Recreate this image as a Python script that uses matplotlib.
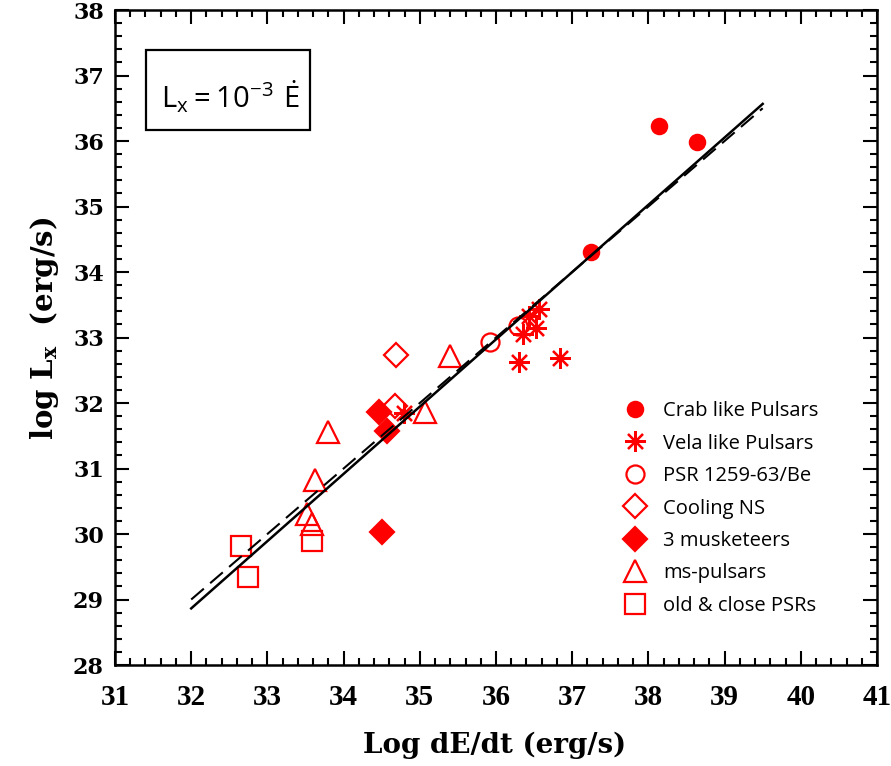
import numpy as np
import matplotlib.pyplot as plt
from matplotlib.patches import Rectangle

# data (log Edot, log Lx)
crab_x = [38.14, 38.64, 37.25]
crab_y = [36.23, 35.98, 34.30]
vela_x = [36.57, 36.43, 36.53, 36.35, 36.30, 36.84, 34.79]
vela_y = [33.43, 33.33, 33.14, 33.05, 32.62, 32.68, 31.85]
be_x = [35.92, 36.29]
be_y = [32.93, 33.18]
cool_x = [34.69, 34.68]
cool_y = [32.74, 31.95]
musk_x = [34.47, 34.57, 34.51]
musk_y = [31.87, 31.58, 30.03]
ms_x = [35.39, 35.07, 33.79, 33.62, 33.52, 33.59]
ms_y = [32.71, 31.86, 31.56, 30.82, 30.30, 30.16]
old_x = [32.66, 32.75, 33.59]
old_y = [29.81, 29.34, 29.90]

# lines: best fit (solid) and Lx = 1e-3 Edot (dashed)
fit_slope, fit_icpt = 1.027, -4.0
eff_slope, eff_icpt = 1.0, -3.0
line_range = [32.0, 39.5]

red = '#ff0000'

fig = plt.figure(figsize=(8.91, 7.66), dpi=100)
ax = fig.add_axes([115/891, 1-665/766, 762/891, 655/766])

ms_kw = dict(linestyle='none', color=red, markeredgewidth=1.6)
ax.plot(crab_x, crab_y, 'o', markersize=11, label='Crab like Pulsars', **ms_kw)
ax.plot(vela_x, vela_y, marker=(8, 2, 0), markersize=15, label='Vela like Pulsars', **ms_kw)
ax.plot(be_x, be_y, 'o', markersize=13, markerfacecolor='none', label='PSR 1259-63/Be', **ms_kw)
ax.plot(cool_x, cool_y, 'D', markersize=12, markerfacecolor='none', label='Cooling NS', **ms_kw)
ax.plot(musk_x, musk_y, 'D', markersize=12, label='3 musketeers', **ms_kw)
ax.plot(ms_x, ms_y, '^', markersize=16, markerfacecolor='none', label='ms-pulsars', **ms_kw)
ax.plot(old_x, old_y, 's', markersize=14, markerfacecolor='none', label='old & close PSRs', **ms_kw)

xl = np.array(line_range)
ax.plot(xl, fit_slope*xl + fit_icpt, color='black', lw=1.8, zorder=5)
ax.plot(xl, eff_slope*xl + eff_icpt, color='black', lw=1.5, ls=(0, (8, 4)), zorder=5)

ax.set_xlim(31, 41)
ax.set_ylim(28, 38)
ax.set_xticks(np.arange(31, 42, 1))
ax.set_yticks(np.arange(28, 39, 1))
ax.set_xticks(np.arange(31, 41.01, 0.2), minor=True)
ax.set_yticks(np.arange(28, 38.01, 0.2), minor=True)
ax.tick_params(which='both', direction='in', top=True, right=True, width=1.5)
ax.tick_params(which='major', length=10)
ax.tick_params(which='minor', length=5)
ax.tick_params(axis='x', pad=14)
ax.tick_params(axis='y', pad=8)
for s in ax.spines.values():
    s.set_linewidth(1.8)

for lab in ax.get_yticklabels():
    lab.set_fontfamily('DejaVu Serif')
    lab.set_fontweight('bold')
    lab.set_fontsize(16)
for lab in ax.get_xticklabels():
    lab.set_fontfamily('Liberation Serif')
    lab.set_fontweight('bold')
    lab.set_fontsize(21)

fig.text(45/891, 1-328/766, r'log L$_\mathbf{x}$  (erg/s)', rotation=90,
         ha='center', va='center', fontfamily='DejaVu Serif', fontweight='bold',
         fontsize=21, math_fontfamily='dejavuserif')
fig.text(495/891, 1-745/766, 'Log dE/dt (erg/s)', ha='center', va='center',
         fontfamily='DejaVu Serif', fontweight='bold', fontsize=20)

ax.add_patch(Rectangle((31/762, 1-120/655), 164/762, 80/655, transform=ax.transAxes,
                       fill=False, lw=1.6, edgecolor='black', zorder=6))
ax.text(115/762, 1-87/655, r'$\mathregular{L_x = 10^{-3}\ \dot{E}}$', transform=ax.transAxes,
        ha='center', va='center', fontsize=21, fontfamily='Open Sans')

ax.legend(loc='upper left', bbox_to_anchor=(500/762, 1-383/655), frameon=False,
          prop={'family': 'Open Sans', 'size': 14.5}, handlelength=1.2,
          handletextpad=0.8, labelspacing=0.62, borderaxespad=0)

fig.savefig('out.png', dpi=100)
